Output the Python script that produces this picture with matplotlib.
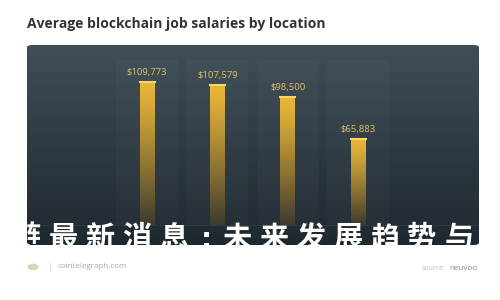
import numpy as np
import matplotlib.pyplot as plt
from matplotlib.patches import FancyBboxPatch, Circle

# data
categories = ['A', 'B', 'C', 'D']
salaries = [109773, 107579, 98500, 65883]
value_labels = ['$109,773', '$107,579', '$98,500', '$65,883']
title = 'Average blockchain job salaries by location'
overlay = '链最新消息:未来发展趋势与'
footer_left = 'cointelegraph.com'
footer_right = 'neuvoo'

W, H = 500, 300
fig = plt.figure(figsize=(5, 3), dpi=100, facecolor='white')

def fx(px):
    return px / W

def fy(py):
    return 1 - py / H

# panel
px0, px1, py0, py1 = 27, 479, 45, 245
rect = [fx(px0), fy(py1), fx(px1) - fx(px0), fy(py0) - fy(py1)]

ax_bg = fig.add_axes(rect)
ax_bg.set_axis_off()
grad = np.linspace(0, 1, 256).reshape(-1, 1)
top = np.array([0x3f, 0x4e, 0x58]) / 255
bot = np.array([0x1e, 0x28, 0x2f]) / 255
img = top + (bot - top) * grad[:, :, None]
im = ax_bg.imshow(img, aspect='auto', extent=[0, 1, 0, 1], origin='upper')
clip = FancyBboxPatch((0, 0), 1, 1, boxstyle='round,pad=0,rounding_size=0.012',
                      transform=ax_bg.transAxes, facecolor='none', edgecolor='none')
ax_bg.add_patch(clip)
im.set_clip_path(clip)

# chart axes
ax = fig.add_axes(rect)
ax.set_axis_off()
pitch = (358 - 147) / 3.0
ax.set_xlim((px0 - 147) / pitch, (px1 - 147) / pitch)
upp = (salaries[0] - salaries[3]) / (139 - 82)
ax.set_ylim(-(py1 - 225) * upp, (225 - py0) * upp)

x = np.arange(len(categories))
bw = 15 / pitch

# soft column bands
ax.bar(x, [(225 - 60) * upp] * len(x), width=62 / pitch, color='white', alpha=0.022, zorder=1)
ax.axhline(0, color='white', alpha=0.07, lw=0.8, zorder=1)

gold_top = np.array([0xea, 0xb6, 0x38]) / 255
gold_bot = np.array([0x3c, 0x3b, 0x2e]) / 255
g = np.linspace(0, 1, 256).reshape(-1, 1)
gimg = gold_top + (gold_bot - gold_top) * g[:, :, None] ** 1.2
for xi, v, lab in zip(x, salaries, value_labels):
    bars = ax.bar(xi, v, width=bw, color='none', zorder=2)
    p = bars[0]
    gi = ax.imshow(gimg, aspect='auto', extent=[xi - bw / 2, xi + bw / 2, 0, v],
                   origin='upper', zorder=2)
    gi.set_clip_path(p)
    ax.plot([xi - bw / 2, xi + bw / 2], [v, v], color='#f8d66a', lw=1.5, zorder=3)
    ax.text(xi, v + 5 * upp, lab, ha='center', va='bottom', color='#e2c260',
            fontsize=6.8, family='Open Sans', zorder=4)

# title
fig.text(fx(27), fy(24), title, ha='left', va='center', fontsize=10,
         fontweight='bold', family='Open Sans', color='#333333')

# overlay caption
cx = 26
for ch in overlay:
    if ch == ':':
        fig.text(fx(cx - 5), fy(240), ch, ha='center', va='center', fontsize=20,
                 fontweight='heavy', color='white', family='DejaVu Sans', zorder=10)
        cx += 26
        continue
    fig.text(fx(cx), fy(238), ch, ha='center', va='center', fontsize=21,
             fontweight='heavy', color='white',
             family=['Noto Sans CJK SC', 'DejaVu Sans'], zorder=10)
    cx += 37

# footer
fig.patches.append(Circle((fx(33), fy(267)), 0.011, transform=fig.transFigure,
                          facecolor='#ddd3b5', edgecolor='none'))
fig.text(fx(49), fy(267), '|', ha='left', va='center', fontsize=5.5, color='#cccccc')
fig.text(fx(57), fy(267), footer_left, ha='left', va='center', fontsize=5.8,
         family='Open Sans', color='#aaaaaa')
fig.text(fx(478), fy(268), footer_right, ha='right', va='center', fontsize=5.8,
         family='Open Sans', color='#888888')
fig.text(fx(478 - 32), fy(268), 'source:', ha='right', va='center', fontsize=5,
         family='Open Sans', color='#bbbbbb')

fig.savefig('out.png', dpi=100, facecolor='white')
